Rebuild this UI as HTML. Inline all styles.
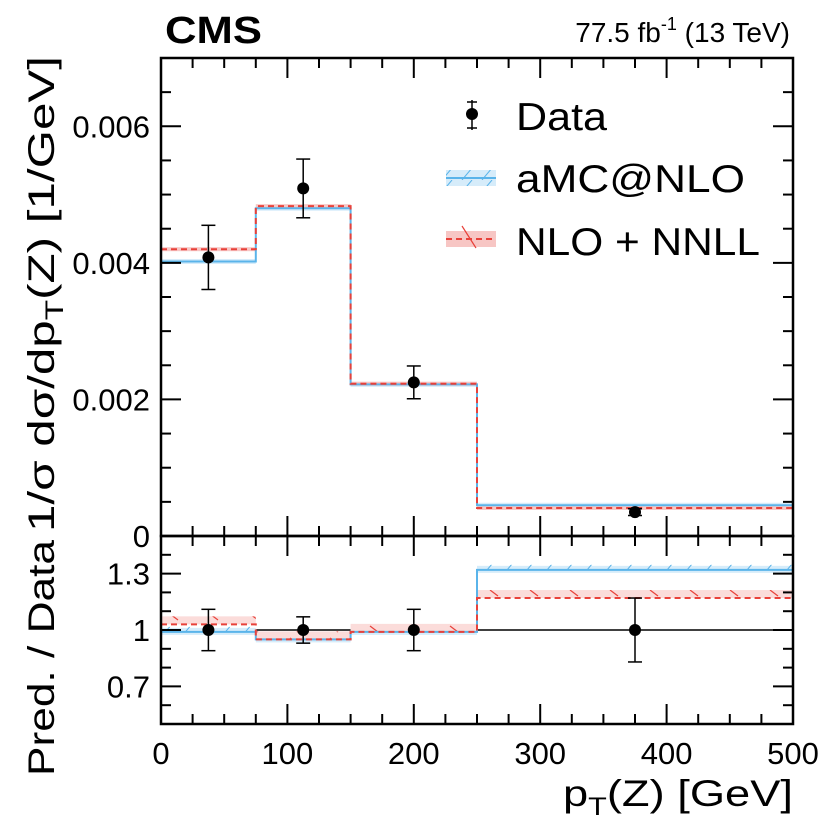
<!DOCTYPE html>
<html><head><meta charset="utf-8"><style>
html,body{margin:0;padding:0;background:#fff;}
svg{display:block;font-family:"Liberation Sans",Arial,sans-serif;}
</style></head><body>
<svg id="chart" width="830" height="826" viewBox="0 0 830 826" xmlns="http://www.w3.org/2000/svg">
<defs>
<pattern id="hb" patternUnits="userSpaceOnUse" width="20" height="12"><line x1="2" y1="12" x2="12" y2="0" stroke="#5ab4ea" stroke-width="1"/></pattern>
<pattern id="hr" patternUnits="userSpaceOnUse" width="40" height="12"><line x1="10" y1="2" x2="18" y2="8" stroke="#e8413a" stroke-width="1.2"/></pattern>
</defs>
<g id="plot"></g>
<text x="165" y="43" font-size="38" font-weight="bold" textLength="97" lengthAdjust="spacingAndGlyphs">CMS</text>
<text x="790" y="42" font-size="28" text-anchor="end">77.5 fb<tspan dy="-12" font-size="18">-1</tspan><tspan dy="12"> (13 TeV)</tspan></text>
<text transform="translate(54,532) rotate(-90)" font-size="37" textLength="476" lengthAdjust="spacingAndGlyphs">1/σ dσ/dp<tspan dy="9" font-size="25">T</tspan><tspan dy="-9">(Z) [1/GeV]</tspan></text>
<text transform="translate(54,776) rotate(-90)" font-size="37" textLength="236" lengthAdjust="spacingAndGlyphs">Pred. / Data</text>
<text x="563" y="806" font-size="37" textLength="230" lengthAdjust="spacingAndGlyphs">p<tspan dy="9" font-size="25">T</tspan><tspan dy="-9">(Z) [GeV]</tspan></text>
<g>
<g>
<line x1="472" y1="100" x2="472" y2="130" stroke="#000" stroke-width="1.5"/><line x1="467" y1="102" x2="477" y2="102" stroke="#000" stroke-width="1.5"/><line x1="467" y1="128" x2="477" y2="128" stroke="#000" stroke-width="1.5"/>
<circle cx="472" cy="114" r="6" fill="#000"/>
<text x="516" y="130" font-size="39" textLength="91" lengthAdjust="spacingAndGlyphs">Data</text></g>
<g>
<rect x="446" y="170" width="50" height="16" fill="#d6ecfa"/><rect x="446" y="170" width="50" height="16" fill="url(#hb)"/>
<line x1="446" y1="178" x2="496" y2="178" stroke="#5ab4ea" stroke-width="2"/>
<text x="516" y="192" font-size="39" textLength="229" lengthAdjust="spacingAndGlyphs">aMC@NLO</text></g>
<g>
<rect x="446" y="231" width="50" height="16" fill="#f7c6c4"/>
<line x1="462" y1="226" x2="476" y2="248" stroke="#e8413a" stroke-width="1.2"/>
<line x1="446" y1="239" x2="496" y2="239" stroke="#e8413a" stroke-width="2" stroke-dasharray="6,4"/>
<text x="516" y="255" font-size="39" textLength="244" lengthAdjust="spacingAndGlyphs">NLO + NNLL</text></g>
</g>
</svg>
<script>
const binEdges=[0,75,150,250,500];
const dataVals=[0.00408,0.00509,0.00225,0.00035];
const dataErr=[0.00047,0.00043,0.00024,0.00005];
const amcVals=[0.00402,0.00480,0.00222,0.00045];
const nnllVals=[0.00420,0.00483,0.00223,0.00041];
const ratioAmc=[0.99,0.95,0.99,1.32];
const ratioNnll=[1.03,0.95,0.99,1.17];
const ratioDataErr=[0.11,0.07,0.11,0.17];
const topTicks=[0,0.002,0.004,0.006];
const topTickLabels=["0","0.002","0.004","0.006"];
const ratioTicks=[0.7,1,1.3];
const ratioTickLabels=["0.7","1","1.3"];
const xTicks=[0,100,200,300,400,500];
const xTickLabels=["0","100","200","300","400","500"];

const NS="http://www.w3.org/2000/svg";
const g=document.getElementById('plot');
const L=161,R=793,T=58,M=536,B=724;
const X=v=>L+(v-0)/(500-0)*(R-L);
const Y=v=>M-(v/0.007)*(M-T);
const YR=v=>B-(v-0.5)/(1.0)*(B-M);
function el(tag,attrs,parent){const e=document.createElementNS(NS,tag);for(const k in attrs)e.setAttribute(k,attrs[k]);(parent||g).appendChild(e);return e;}

function stepPath(vals,yf){let d='';for(let i=0;i<vals.length;i++){const y=yf(vals[i]);d+=(i===0?'M'+X(binEdges[0])+','+y:'L'+X(binEdges[i])+','+y)+'L'+X(binEdges[i+1])+','+y;}return d;}
function bands(vals,yf,fill,name,h){for(let i=0;i<vals.length;i++){const y=yf(vals[i]);
 const r=el('rect',{x:X(binEdges[i]),y:y-h/2,width:X(binEdges[i+1])-X(binEdges[i]),height:h,fill:fill});
 
 }}

bands(amcVals,Y,'#d6ecfa','amc',5);
bands(nnllVals,Y,'#f7c6c4','nnll',4);
let p=el('path',{d:stepPath(amcVals,Y),fill:'none',stroke:'#5ab4ea','stroke-width':2});


p=el('path',{d:stepPath(nnllVals,Y),fill:'none',stroke:'#e8413a','stroke-width':2,'stroke-dasharray':'6,4'});



el('line',{x1:L,x2:R,y1:YR(1),y2:YR(1),stroke:'#000','stroke-width':1.5});
for(let i=0;i<ratioAmc.length;i++){const y=YR(ratioAmc[i]);const r=el('rect',{x:X(binEdges[i]),y:y-4,width:X(binEdges[i+1])-X(binEdges[i]),height:7,fill:'#d6ecfa'});

const r2=el('rect',{x:X(binEdges[i]),y:y-5,width:X(binEdges[i+1])-X(binEdges[i]),height:5,fill:'url(#hb)'});
}
for(let i=0;i<ratioNnll.length;i++){const y=YR(ratioNnll[i]);const r=el('rect',{x:X(binEdges[i]),y:y-8,width:X(binEdges[i+1])-X(binEdges[i]),height:8,fill:'#fbdcda'});

const r2=el('rect',{x:X(binEdges[i]),y:y-8,width:X(binEdges[i+1])-X(binEdges[i]),height:8,fill:'url(#hr)'});
}
p=el('path',{d:stepPath(ratioAmc,YR),fill:'none',stroke:'#5ab4ea','stroke-width':2});


p=el('path',{d:stepPath(ratioNnll,YR),fill:'none',stroke:'#e8413a','stroke-width':2,'stroke-dasharray':'6,4'});



function point(cx,cy,y1,y2,name){const gg=el('g',{});


el('line',{x1:cx,x2:cx,y1:y1,y2:y2,stroke:'#000','stroke-width':1.5},gg);
el('line',{x1:cx-7,x2:cx+7,y1:y1,y2:y1,stroke:'#000','stroke-width':1.5},gg);
el('line',{x1:cx-7,x2:cx+7,y1:y2,y2:y2,stroke:'#000','stroke-width':1.5},gg);
el('circle',{cx:cx,cy:cy,r:6,fill:'#000'},gg);}
for(let i=0;i<dataVals.length;i++){const cx=X((binEdges[i]+binEdges[i+1])/2);
point(cx,Y(dataVals[i]),Y(dataVals[i]+dataErr[i]),Y(dataVals[i]-dataErr[i]),'data-point-'+i);
point(cx,YR(1),YR(1+ratioDataErr[i]),YR(1-ratioDataErr[i]),'ratio-data-point-'+i);}

let f=el('rect',{x:L,y:T,width:R-L,height:M-T,fill:'none',stroke:'#000','stroke-width':2.5});


f=el('rect',{x:L,y:M,width:R-L,height:B-M,fill:'none',stroke:'#000','stroke-width':2.5});



for(let v=0;v<=500;v+=25){const major=v%100===0;const x=X(v);const len=major?20:10;
[[T,1],[M,-1],[M,1],[B,-1]].forEach(([yy,dir])=>el('line',{x1:x,x2:x,y1:yy,y2:yy+dir*len,stroke:'#000','stroke-width':2}));}
xTicks.forEach((v,i)=>{const t=el('text',{x:X(v),y:764,'font-size':31,'text-anchor':'middle'});t.textContent=xTickLabels[i];

});
for(let k=0;k<=14;k++){const v=k*0.0005;const y=Y(v);if(y<T)continue;const major=k%4===0;const len=major?20:10;
el('line',{x1:L,x2:L+len,y1:y,y2:y,stroke:'#000','stroke-width':2});el('line',{x1:R,x2:R-len,y1:y,y2:y,stroke:'#000','stroke-width':2});}
topTicks.forEach((v,i)=>{const t=el('text',{x:150,y:Y(v)+11,'font-size':31,'text-anchor':'end'});t.textContent=topTickLabels[i];

});
for(let k=6;k<=14;k++){const v=k*0.1;const y=YR(v);const major=(k===7||k===10||k===13);const len=major?20:10;
el('line',{x1:L,x2:L+len,y1:y,y2:y,stroke:'#000','stroke-width':2});el('line',{x1:R,x2:R-len,y1:y,y2:y,stroke:'#000','stroke-width':2});}
ratioTicks.forEach((v,i)=>{const t=el('text',{x:150,y:YR(v)+11,'font-size':31,'text-anchor':'end'});t.textContent=ratioTickLabels[i];

});
</script>
</body></html>
